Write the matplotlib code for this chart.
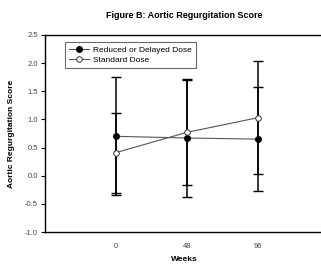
import matplotlib
matplotlib.use('Agg')
import matplotlib.pyplot as plt

plt.rcParams['font.family'] = ['Liberation Sans', 'DejaVu Sans']

weeks = [0, 48, 96]
week_labels = ['0', '48', '96']

reduced = [0.70, 0.67, 0.65]
reduced_err = [1.05, 1.05, 0.93]

standard = [0.41, 0.77, 1.03]
standard_err = [0.71, 0.93, 1.00]

fig = plt.figure(figsize=(3.21, 2.65), dpi=100)
ax = fig.add_axes([0.140, 0.1245, 0.87, 0.7435])

ax.errorbar(weeks, reduced, yerr=reduced_err, fmt='none', ecolor='black',
            elinewidth=1.1, capsize=3.5, capthick=1.0, zorder=2)
ax.errorbar(weeks, standard, yerr=standard_err, fmt='none', ecolor='black',
            elinewidth=1.1, capsize=3.5, capthick=1.0, zorder=2)

ax.plot(weeks, reduced, color='#555555', lw=0.8, marker='o', ms=4,
        mfc='black', mec='black', label='Reduced or Delayed Dose', zorder=3)
ax.plot(weeks, standard, color='#555555', lw=0.8, marker='o', ms=4,
        mfc='white', mec='#333333', mew=0.7, label='Standard Dose', zorder=3)

ax.set_xlim(-48, 141)
ax.set_ylim(-1.0, 2.5)
ax.set_yticks([-1.0, -0.5, 0.0, 0.5, 1.0, 1.5, 2.0, 2.5])
ax.set_yticklabels(['%.1f' % v for v in ax.get_yticks()])
ax.set_xticks(weeks)
ax.set_xticklabels(week_labels)

ax.tick_params(axis='y', direction='out', length=3, width=0.8,
               labelsize=5.5, labelcolor='#444444', pad=2)
ax.tick_params(axis='x', length=0, labelsize=5.5, labelcolor='#444444', pad=8)

for side in ['left', 'bottom', 'top']:
    ax.spines[side].set_linewidth(1.0)
ax.spines['right'].set_visible(False)

ax.set_title('Figure B: Aortic Regurgitation Score', fontsize=6.5,
             fontweight='bold', pad=12)
ax.set_xlabel('Weeks', fontsize=6, fontweight='bold', labelpad=4)
ax.set_ylabel('Aortic Regurgitation Score', fontsize=6, fontweight='bold',
              labelpad=7)

leg = ax.legend(loc='upper left', bbox_to_anchor=(0.063, 0.975), fontsize=6,
                frameon=True, fancybox=False, handlelength=2.4,
                borderpad=0.5, borderaxespad=0.3, labelspacing=0.2,
                handletextpad=0.5)
leg.get_frame().set_edgecolor('#444444')
leg.get_frame().set_linewidth(0.8)

fig.savefig('out.png', dpi=100)
